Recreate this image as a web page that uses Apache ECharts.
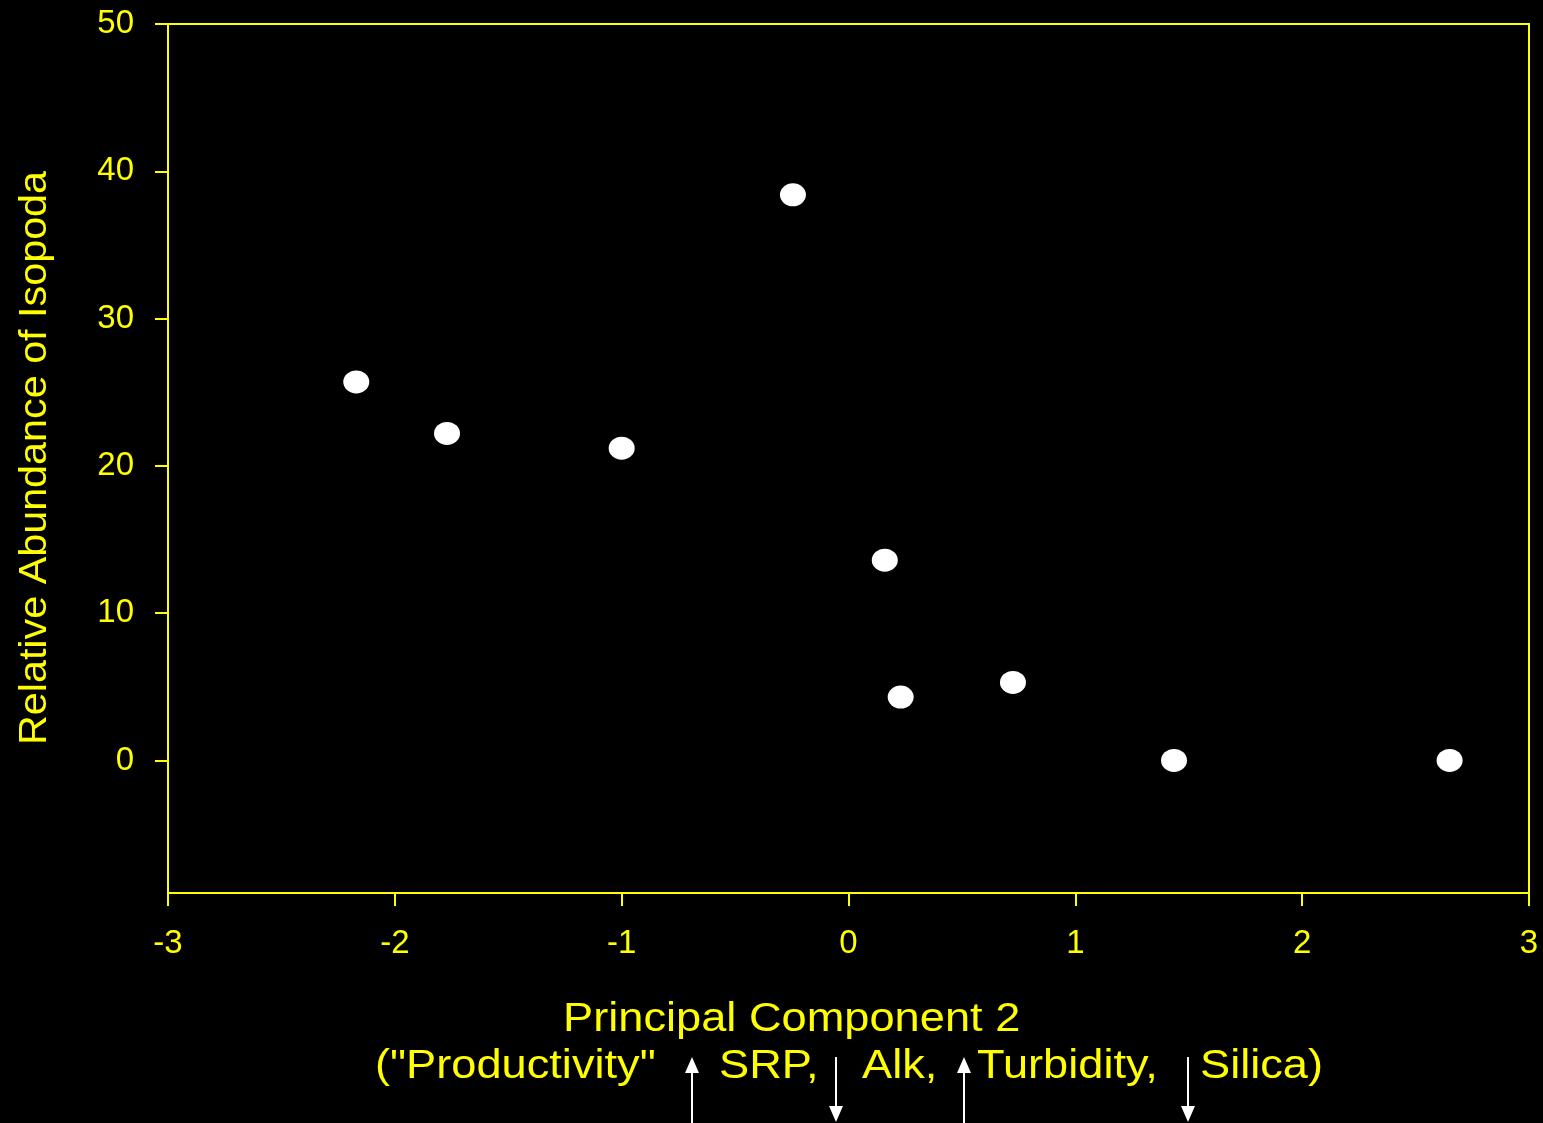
<!DOCTYPE html>
<html><head><meta charset="utf-8">
<script src="https://cdn.jsdelivr.net/npm/echarts@6/dist/echarts.min.js"></script>
<style>html,body{margin:0;padding:0;background:#000}#c{width:1543px;height:1123px}</style>
</head><body><div id="c"></div>
<script>
const pcScores = [-2.17, -1.77, -1.0, -0.245, 0.16, 0.23, 0.725, 1.435, 2.65];
const isopodaAbundance = [25.7, 22.2, 21.2, 38.4, 13.6, 4.3, 5.3, 0, 0];
const yTicks = [0, 10, 20, 30, 40, 50];
const xTitle = 'Principal Component 2';
const yTitle = 'Relative Abundance of Isopoda';
const xSubtitleParts = ['("Productivity"', 'SRP,', 'Alk,', 'Turbidity,', 'Silica)'];

const Y = '#ffff00';
const FONT = '"Liberation Sans", Arial, sans-serif';
const chart = echarts.init(document.getElementById('c'));

const arrowUp = (x) => ([
  {type:'line', shape:{x1:x,y1:1123,x2:x,y2:1070}, style:{stroke:'#fff',lineWidth:2}},
  {type:'polygon', shape:{points:[[x-7,1073],[x+7,1073],[x,1057]]}, style:{fill:'#fff'}}
]);
const arrowDown = (x) => ([
  {type:'line', shape:{x1:x,y1:1057,x2:x,y2:1110}, style:{stroke:'#fff',lineWidth:2}},
  {type:'polygon', shape:{points:[[x-7,1106],[x+7,1106],[x,1122]]}, style:{fill:'#fff'}}
]);

const subX = [375, 719, 862, 977, 1200];
const subText = xSubtitleParts.map((t,i)=>({
  type:'text', x:subX[i], y:1047, scaleX:1.13,
  style:{text:t, fill:Y, font:'40px ' + FONT, align:'left', verticalAlign:'top'}
}));

chart.setOption({
  backgroundColor:'#000',
  animation:false,
  grid:{left:168, right:14, top:24, bottom:230, show:true, borderColor:Y, borderWidth:2, backgroundColor:'transparent'},
  xAxis:{
    type:'value', min:-3, max:3, interval:1,
    axisLine:{show:true, onZero:false, lineStyle:{color:Y, width:2}},
    axisTick:{show:true, inside:false, length:13, lineStyle:{color:Y, width:2}},
    axisLabel:{color:Y, fontSize:33, fontFamily:FONT, margin:34},
    splitLine:{show:false}
  },
  yAxis:{
    type:'value', min:-9, max:50,
    axisLine:{show:true, onZero:false, lineStyle:{color:Y, width:2}},
    axisTick:{show:true, inside:false, length:13, lineStyle:{color:Y, width:2}, customValues:yTicks},
    axisLabel:{color:Y, fontSize:33, fontFamily:FONT, margin:34, customValues:yTicks},
    splitLine:{show:false}
  },
  series:[{
    type:'scatter',
    data: pcScores.map((x,i)=>[x, isopodaAbundance[i]]),
    symbol:'circle', symbolSize:[26,23],
    itemStyle:{color:'#fff', opacity:1},
    emphasis:{disabled:true}
  }],
  graphic:[
    {type:'text', x:563, y:1000, scaleX:1.13, style:{text:xTitle, fill:Y, font:'40px ' + FONT, align:'left', verticalAlign:'top'}},
    {type:'text', x:36, y:458, rotation:Math.PI/2, scaleX:1.087, style:{text:yTitle, fill:Y, font:'38px ' + FONT, align:'center', verticalAlign:'middle'}},
    ...subText,
    ...arrowUp(692), ...arrowDown(836), ...arrowUp(964), ...arrowDown(1188)
  ]
});
</script></body></html>
